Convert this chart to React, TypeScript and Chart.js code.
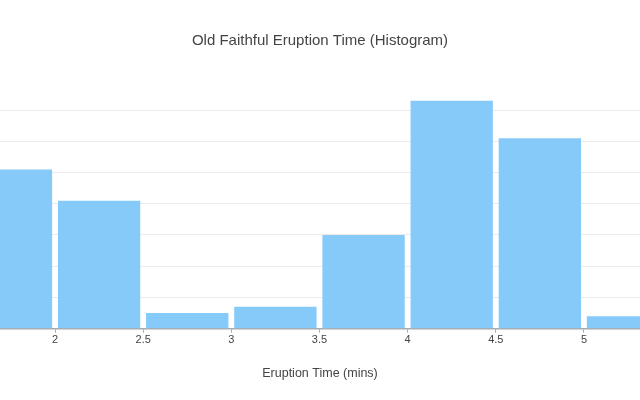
import React, { useEffect, useRef } from "react";
import { Chart, registerables } from "chart.js";

Chart.register(...registerables);

const binStarts = [1.5, 2, 2.5, 3, 3.5, 4, 4.5, 5];
const binWidth = 0.5;
const counts = [51, 41, 5, 7, 30, 73, 61, 4];
const titleText = "Old Faithful Eruption Time (Histogram)";
const xTitleText = "Eruption Time (mins)";

const FONT = "'Liberation Sans', Arial, sans-serif";

export default function App() {
  const ref = useRef<HTMLCanvasElement | null>(null);
  useEffect(() => {
    if (!ref.current) return;
    const chart = new Chart(ref.current, {
      type: "bar",
      data: {
        datasets: [
          {
            data: binStarts.map((s, i) => ({ x: s + binWidth / 2, y: counts[i] })),
            backgroundColor: "rgb(134, 202, 250)",
            borderWidth: 0,
            barPercentage: 0.934,
            categoryPercentage: 1,
          },
        ],
      },
      options: {
        animation: false,
        responsive: false,
        layout: { padding: 0 },
        plugins: {
          legend: { display: false },
          tooltip: { enabled: false },
          title: {
            display: true,
            text: titleText,
            color: "#444",
            font: { family: FONT, size: 15, weight: "normal", lineHeight: 1.2 },
            padding: { top: 32, bottom: 38.7 },
          },
        },
        scales: {
          x: {
            type: "linear",
            offset: false,
            min: 1.688,
            max: 5.318,
            afterFit: (s: any) => {
              s.height = 71.3;
            },
            ticks: {
              stepSize: 0.5,
              includeBounds: false,
              color: "#444",
              font: { family: FONT, size: 11 },
              padding: 1,
              maxRotation: 0,
              autoSkip: false,
              callback: (v: any) => String(Math.round(Number(v) * 10) / 10),
            },
            grid: {
              display: true,
              offset: false,
              drawOnChartArea: false,
              drawTicks: true,
              tickLength: 4,
              color: "#aaa",
            },
            border: { display: true, color: "#aaa", width: 1.5 },
            title: {
              display: true,
              text: xTitleText,
              color: "#444",
              font: { family: FONT, size: 12.5 },
              padding: { top: 0, bottom: 18.5 },
            },
          },
          y: {
            min: 0,
            max: 76.84,
            afterFit: (s: any) => {
              s.width = 0;
            },
            ticks: { display: false, stepSize: 10, includeBounds: false },
            grid: { color: "#ebebeb", drawTicks: false },
            border: { display: false },
          },
        },
      },
    });
    return () => chart.destroy();
  }, []);
  return (
    <div style={{ position: "fixed", left: 0, top: 0, width: 640, height: 400, background: "#fff" }}>
      <canvas ref={ref} width={640} height={400} />
    </div>
  );
}
